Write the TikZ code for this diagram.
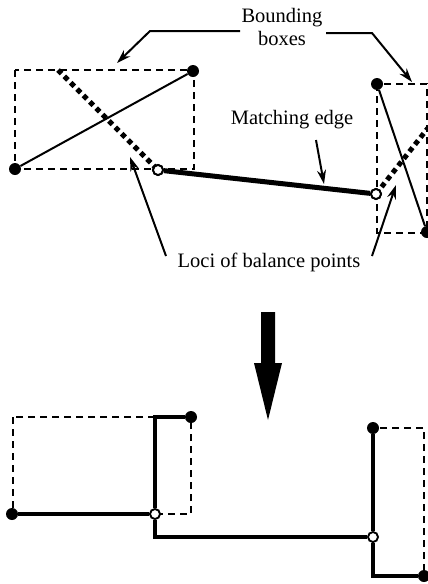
\documentclass[tikz,border=0pt]{standalone}
\usepackage{fontspec}
\setmainfont{Liberation Serif}
\usetikzlibrary{arrows.meta}
\begin{document}
\begin{tikzpicture}[x=1pt,y=-1pt,
  dotf/.style={circle,fill=black,inner sep=0pt,minimum size=12pt},
  doto/.style={circle,draw=black,fill=white,line width=1.9pt,inner sep=0pt,minimum size=10pt},
  bbox/.style={line width=2.2pt,dash pattern=on 7pt off 5pt},
  locus/.style={line width=5pt,dash pattern=on 5pt off 4pt},
  seg/.style={line width=2pt},
  match/.style={line width=5pt},
  route/.style={line width=3.6pt},
  callout/.style={line width=2pt,-{Stealth[length=14pt,width=9pt]}},
  lbl/.style={font=\fontsize{20.5}{23}\selectfont,inner sep=0pt,align=center}]
\useasboundingbox (0,0) rectangle (428,584);
% ---------- top ----------
\draw[bbox] (15,70) rectangle (194,169);
\draw[bbox] (377,84) rectangle (427,233);
\node[dotf] (a1) at (193,71) {};
\node[dotf] (a2) at (15,169) {};
\node[dotf] (b1) at (377,84) {};
\node[dotf] (b2) at (427,232) {};
\coordinate (l1) at (58,70);
\coordinate (l2) at (428,128);
\draw[locus] (l1) -- (158,170);
\draw[locus] (376,194) -- (l2);
\draw[seg] (a1) -- (a2);
\draw[seg] (b1) -- (b2);
\node[doto] (p) at (158,170) {};
\node[doto] (q) at (376,194) {};
\draw[match] (p) -- (q);
\node[doto] at (158,170) {};
\node[doto] at (376,194) {};
% labels
\node[lbl] (bb) at (282,27) {Bounding\\boxes};
\node[lbl] (me) at (292,120) {Matching edge};
\node[lbl] (lo) at (269,262) {Loci of balance points};
\coordinate (bbl) at (240,31);
\coordinate (bbr) at (326,33);
\draw[callout] (bbl) -- (150,31) -- (117,63);
\draw[callout] (bbr) -- (372,33) -- (412,82);
\coordinate (mes) at (316,140);
\coordinate (mee) at (324,184);
\draw[callout] (mes) -- (mee);
\coordinate (lo1) at (166,256);
\coordinate (lo1e) at (130,157);
\coordinate (lo2) at (372,256);
\coordinate (lo2e) at (396,185);
\draw[callout] (lo1) -- (lo1e);
\draw[callout] (lo2) -- (lo2e);
% ---------- big arrow ----------
\fill (261,312) -- (275,312) -- (275,363) -- (282,363) -- (268,420) -- (254,363) -- (261,363) -- cycle;
% ---------- bottom ----------
\draw[bbox] (13,417) rectangle (191,514);
\draw[bbox] (373,428) rectangle (424,576);
\node[dotf] (c) at (191,417) {};
\node[dotf] (d) at (12,514) {};
\node[dotf] (g) at (373,428) {};
\node[dotf] (h) at (424,576) {};
\node[doto] (e) at (155,514) {};
\node[doto] (f) at (373,537) {};
\draw[route] (c) -| (e);
\draw[route] (e) -- (d);
\draw[route] (e) |- (f);
\draw[route] (g) -- (f);
\draw[route] (f) |- (h);
\end{tikzpicture}
\end{document}
